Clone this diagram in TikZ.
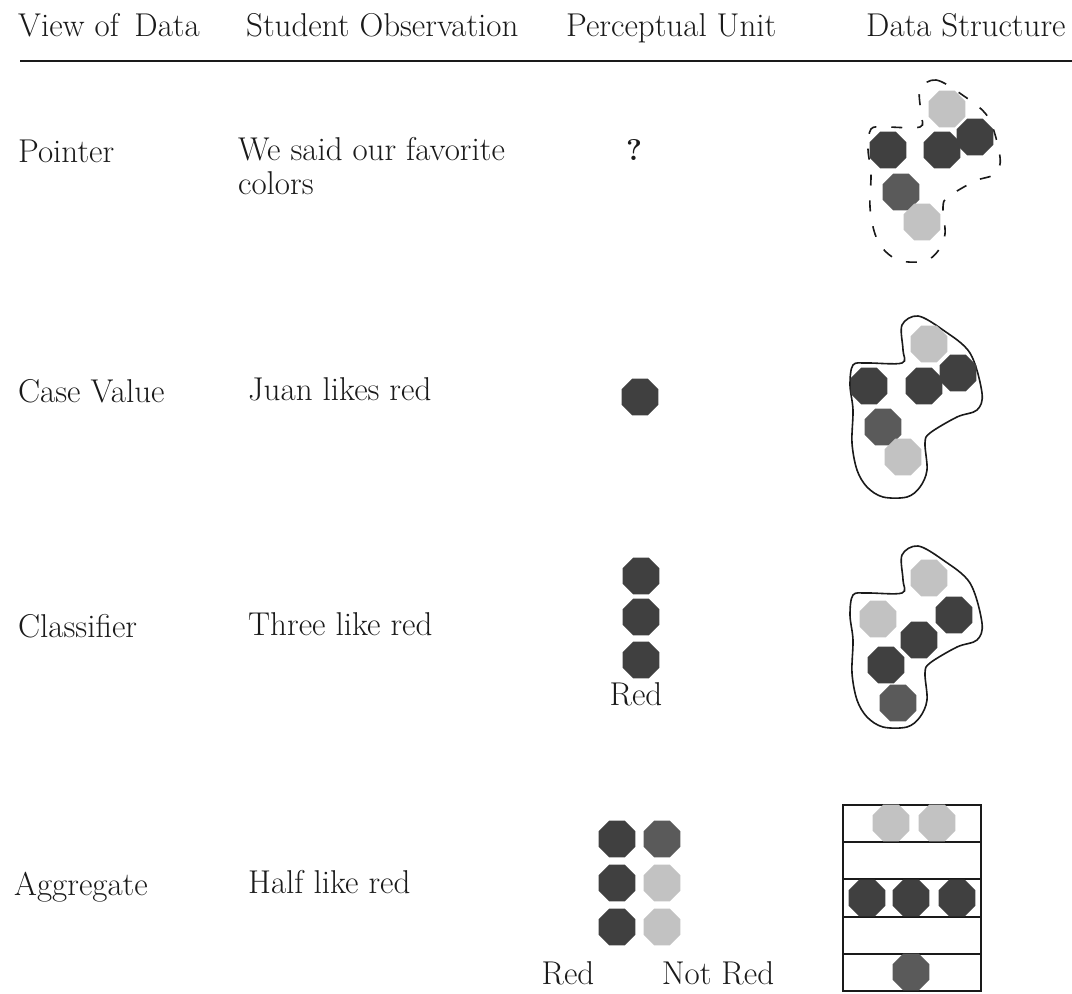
\documentclass[tikz,border=0pt]{standalone}
\usepackage{tikz}
\usetikzlibrary{shapes.geometric}

\definecolor{dotdark}{HTML}{404040}
\definecolor{dotmid}{HTML}{5A5A5A}
\definecolor{dotlight}{HTML}{C2C2C2}
\definecolor{ink}{HTML}{1A1A1A}

\tikzset{
  dot/.style={regular polygon, regular polygon sides=8, minimum size=40pt, inner sep=0pt, draw=none},
  lbl/.style={anchor=base west, inner sep=0pt, text=ink, font=\fontsize{33}{38}\selectfont},
  clbl/.style={lbl, anchor=base},
  blob/.pic={
    \draw[pic actions] plot[smooth cycle, tension=0.55] coordinates {
      (-16,-75) (0,-84) (25,-70) (52,-47) (64,-7) (59,10) (39,17) (12,33)
      (7,43) (9,70) (2,87) (-11,97) (-35,97) (-51,87) (-61,70) (-66,43)
      (-65,10) (-68,-15) (-65,-35) (-51,-37) (-16,-37) (-15,-50)};
  }
}

\begin{document}
\begin{tikzpicture}[x=1pt, y=-1pt]
    \useasboundingbox (0,0) rectangle (1072,994);

    % column heads
    \node[lbl] (h1) at (18,36) {View of\, Data};
    \node[lbl] (h2) at (246,36) {Student Observation};
    \node[lbl] (h3) at (566,36) {Perceptual Unit};
    \node[lbl] (h4) at (866,36) {Data Structure};
    \draw[ink, line width=1.5pt] (20,61) -- (1072,61);

    % views
    \node[lbl] (v1) at (18,162) {Pointer};
    \node[lbl] (v2) at (18,402) {Case Value};
    \node[lbl] (v3) at (18,637) {Classifier};
    \node[lbl] (v4) at (14,895) {Aggregate};

    % observations
    \node[lbl] (o1) at (238,160) {We said our favorite};
    \node[lbl] (o1b) at (238,194) {colors};
    \node[lbl] (o2) at (248,400) {Juan likes red};
    \node[lbl] (o3) at (248,635) {Three like red};
    \node[lbl] (o4) at (248,893) {Half like red};

    % perceptual units
    \node[clbl, font=\fontsize{30}{34}\selectfont\bfseries] (q1) at (634,160) {?};
    \node[dot, fill=dotdark] (u2) at (640,397) {};
    \foreach \y [count=\i] in {576,617,660}
        \node[dot, fill=dotdark] (u3\i) at (641,\y) {};
    \node[clbl] (r3) at (636,705) {Red};
    \foreach \y/\c [count=\i] in {839/dotmid,883/dotlight,927/dotlight} {
        \node[dot, fill=dotdark] (ua\i) at (617,\y) {};
        \node[dot, fill=\c] (ub\i) at (662,\y) {};
    }
    \node[clbl] (r4) at (568,984) {Red};
    \node[clbl] (n4) at (718,984) {Not Red};

    % data structures
    \pic[ink, line width=1.6pt, dash pattern=on 11pt off 15pt] at (936,164) {blob};
    \pic[ink, line width=1.6pt] at (918,400) {blob};
    \pic[ink, line width=1.6pt] at (918,630) {blob};

    \foreach \x/\y/\c [count=\i] in {947/109/dotlight,888/150/dotdark,942/150/dotdark,975/137/dotdark,901/192/dotmid,922/222/dotlight}
        \node[dot, fill=\c] (s1\i) at (\x,\y) {};
    \foreach \x/\y/\c [count=\i] in {929/344/dotlight,869/386/dotdark,924/386/dotdark,958/373/dotdark,883/427/dotmid,903/457/dotlight}
        \node[dot, fill=\c] (s2\i) at (\x,\y) {};
    \foreach \x/\y/\c [count=\i] in {929/578/dotlight,878/619/dotlight,954/615/dotdark,919/640/dotdark,886/665/dotdark,898/703/dotmid}
        \node[dot, fill=\c] (s3\i) at (\x,\y) {};

    % table of the aggregate
    \draw[ink, line width=1.5pt] (843,805) rectangle (981,991);
    \foreach \y in {842,879,917,954} \draw[ink, line width=1.5pt] (843,\y) -- (981,\y);
    \node[dot, fill=dotlight] (t1) at (891,823) {};
    \node[dot, fill=dotlight] (t2) at (937,823) {};
    \foreach \x [count=\i] in {867,911,957}
        \node[dot, fill=dotdark] (t3\i) at (\x,898) {};
    \node[dot, fill=dotmid] (t5) at (911,972) {};

\end{tikzpicture}
\end{document}
